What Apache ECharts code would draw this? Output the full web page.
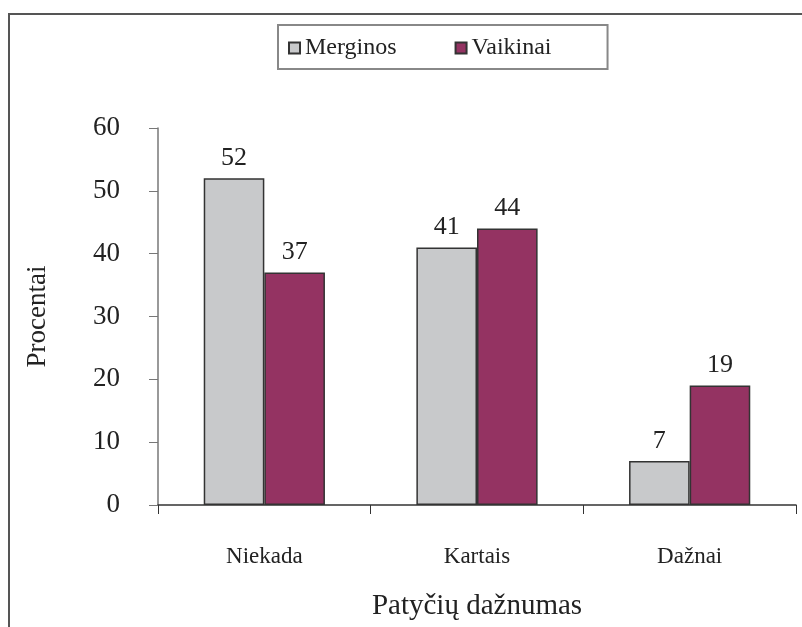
<!DOCTYPE html>
<html>
<head>
<meta charset="utf-8">
<script src="https://cdn.jsdelivr.net/npm/echarts@6/dist/echarts.min.js"></script>
<style>
  html, body { margin: 0; padding: 0; background: #fff; }
  #chart { width: 802px; height: 627px; }
</style>
</head>
<body>
<div id="chart"></div>
<script>
// data
const categories = ['Niekada', 'Kartais', 'Dažnai']
const merginos = [52, 41, 7]
const vaikinai = [37, 44, 19]
const yTicks = [0, 10, 20, 30, 40, 50, 60]

const serif = '"Liberation Serif", "DejaVu Serif", serif'

const chart = echarts.init(document.getElementById('chart'))

const barLabel = {
  show: true,
  position: 'top',
  distance: 7,
  fontFamily: serif,
  fontSize: 26,
  color: '#222'
}

chart.setOption({
  backgroundColor: '#fff',
  animation: false,
  // outer frame
  graphic: [{
    type: 'rect',
    shape: { x: 9, y: 14, width: 900, height: 700 },
    style: { fill: 'none', stroke: '#555', lineWidth: 2 },
    silent: true
  }],
  legend: {
    left: 278,
    top: 25,
    padding: [11, 56, 9, 10],
    itemGap: 58,
    itemWidth: 11,
    itemHeight: 11,
    icon: 'rect',
    borderColor: '#888',
    borderWidth: 2,
    textStyle: { fontFamily: serif, fontSize: 24, color: '#222' },
    data: ['Merginos', 'Vaikinai']
  },
  grid: { left: 158, right: 6, top: 128, bottom: 122, containLabel: false },
  xAxis: {
    type: 'category',
    data: categories,
    name: 'Patyčių dažnumas',
    nameLocation: 'middle',
    nameGap: 87,
    nameTextStyle: { fontFamily: serif, fontSize: 29, color: '#222' },
    axisLine: { lineStyle: { color: '#333', width: 1.5 } },
    axisTick: { show: true, length: 9, interval: 0, lineStyle: { color: '#333' } },
    axisLabel: { margin: 40, fontFamily: serif, fontSize: 23, color: '#222' }
  },
  yAxis: {
    type: 'value',
    min: yTicks[0],
    max: yTicks[yTicks.length - 1],
    interval: 10,
    name: 'Procentai',
    nameLocation: 'middle',
    nameGap: 107,
    nameTextStyle: { fontFamily: serif, fontSize: 27, color: '#222' },
    axisLine: { show: true, lineStyle: { color: '#777', width: 1.5 } },
    axisTick: { show: true, length: 9, lineStyle: { color: '#777' } },
    axisLabel: { margin: 38, fontFamily: serif, fontSize: 27, color: '#222' },
    splitLine: { show: false }
  },
  series: [
    {
      name: 'Merginos',
      type: 'bar',
      data: merginos,
      barGap: '0%',
      barCategoryGap: '43%',
      itemStyle: { color: '#c8c9cb', borderColor: '#333', borderWidth: 1.5 },
      label: barLabel
    },
    {
      name: 'Vaikinai',
      type: 'bar',
      data: vaikinai,
      itemStyle: { color: '#943362', borderColor: '#333', borderWidth: 1.5 },
      label: barLabel
    }
  ]
})
</script>
</body>
</html>
